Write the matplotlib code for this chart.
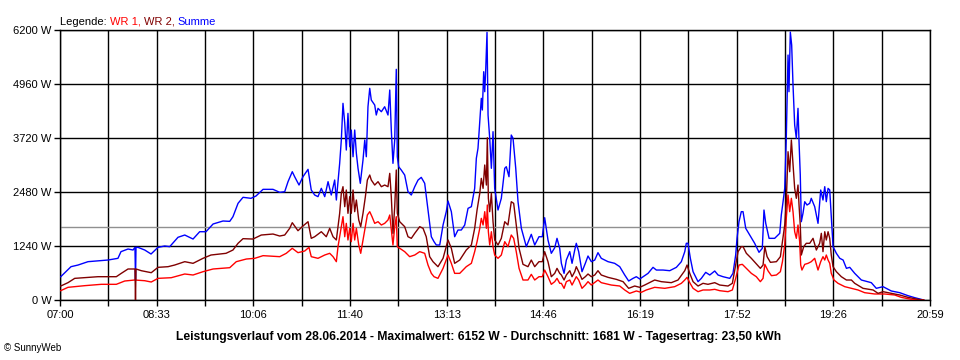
import matplotlib
matplotlib.use("Agg")
import matplotlib.pyplot as plt
from matplotlib.offsetbox import TextArea, HPacker, AnchoredOffsetbox

plt.rcParams['font.family'] = ['Liberation Sans', 'DejaVu Sans']

wr1_t = [0.7, 7.7, 23.8, 39.8, 54.3, 62.4, 72.0, 81.7, 88.0, 94.5, 107.3, 120.3,
         128.3, 137.9, 147.6, 163.7, 170.0, 179.7, 187.8, 195.8, 211.9, 218.2, 224.0,
         229.5, 236.0, 240.1, 242.3, 248.8, 255.3, 260.1, 263.3, 266.5, 268.1, 269.7,
         271.3, 272.9, 274.6, 276.1, 277.7, 279.4, 280.9, 282.6, 284.2, 285.8, 288.1,
         290.0, 292.2, 294.5, 296.4, 298.7, 300.9, 303.5, 306.7, 309.9, 313.1, 316.3,
         318.0, 319.5, 321.1, 322.8, 324.3, 325.3, 327.6, 332.4, 337.2, 342.1, 346.9,
         351.7, 354.9, 358.1, 360.7, 364.5, 369.4, 374.2, 377.4, 380.6, 385.5, 391.8,
         396.7, 399.9, 402.2, 404.8, 406.3, 408.0, 409.6, 411.2, 412.1, 413.1, 414.4,
         416.0, 417.6, 419.2, 422.4, 425.6, 428.9, 432.0, 435.2, 437.5, 440.0, 442.7,
         446.5, 451.3, 454.5, 457.8, 461.9, 465.1, 467.4, 470.6, 473.8, 477.1, 479.3,
         481.9, 483.5, 486.1, 488.3, 491.6, 493.8, 497.9, 500.2, 503.4, 506.6, 509.2,
         512.4, 518.8, 522.0, 531.6, 539.8, 544.6, 549.4, 555.8, 560.6, 565.4, 573.5,
         583.2, 592.8, 599.2, 602.5, 604.7, 607.3, 610.5, 615.3, 620.1, 626.6, 631.4,
         636.2, 644.2, 648.4, 651.6, 654.8, 658.0, 661.9, 666.7, 671.5, 675.4, 678.0,
         679.7, 682.9, 686.1, 690.9, 694.7, 696.7, 698.9, 700.4, 702.1, 703.7, 705.3,
         706.9, 708.5, 710.1, 711.7, 713.3, 714.3, 715.5, 718.2, 721.4, 724.5, 727.8,
         731.0, 733.6, 735.8, 737.5, 739.0, 740.7, 742.3, 743.8, 746.4, 750.3, 756.8,
         763.2, 769.6, 776.0, 785.7, 795.3, 804.9, 811.3, 820.9, 832.9]
wr1_w = [214, 291, 329, 360, 360, 436, 459, 443, 413, 497, 512, 597,
         574, 650, 712, 742, 880, 941, 957, 1018, 995, 1072, 1187,
         1087, 1125, 1209, 995, 957, 1033, 1072, 995, 880, 1225, 1453,
         1684, 1913, 1453, 1760, 1378, 1646, 1339, 1760, 1378, 1646, 1263,
         1072, 1378, 1684, 1952, 2028, 1913, 1760, 1798, 1722, 1760, 1837,
         1952, 1607, 1263, 1684, 1913, 1225, 1187, 1110, 995, 1033, 1110,
         1072, 803, 612, 535, 497, 727, 1033, 842, 612, 612, 765,
         842, 1110, 1339, 1646, 1875, 1722, 2028, 1646, 2181, 1568, 1263,
         1568, 1225, 1033, 957, 1033, 1339, 1225, 1492, 1416, 1110, 727,
         459, 459, 589, 459, 535, 535, 688, 535, 360, 421, 497,
         383, 383, 268, 421, 459, 344, 535, 459, 268, 344, 421,
         344, 459, 398, 344, 321, 230, 153, 207, 176, 230, 291,
         268, 306, 383, 459, 520, 398, 268, 191, 230, 230, 245,
         214, 191, 230, 497, 803, 819, 727, 612, 535, 421, 497,
         819, 666, 558, 574, 650, 880, 1263, 1875, 2411, 2028, 2335,
         2028, 1568, 1416, 1722, 1339, 803, 688, 819, 842, 880, 957,
         688, 880, 995, 918, 1033, 918, 842, 612, 459, 383, 306,
         268, 230, 168, 138, 138, 115, 61, 15, 0]

wr2_t = [0.7, 7.7, 14.2, 27.0, 36.6, 54.3, 59.1, 65.6, 72.3, 72.8, 73.3, 78.4,
         88.0, 94.5, 104.2, 110.6, 120.3, 128.3, 137.9, 145.6, 160.1, 166.8, 171.7,
         176.5, 186.1, 194.1, 205.4, 211.9, 216.7, 221.5, 224.0, 229.5, 234.3, 239.2,
         242.3, 245.6, 252.0, 256.8, 260.1, 263.3, 266.5, 269.7, 271.3, 272.9, 274.6,
         276.1, 277.7, 279.4, 280.9, 282.6, 284.2, 285.8, 288.1, 290.0, 292.2, 294.5,
         296.4, 298.7, 300.2, 303.5, 306.7, 309.9, 313.1, 316.3, 318.0, 319.5, 321.1,
         322.8, 324.3, 325.3, 327.6, 332.4, 335.6, 338.8, 342.1, 346.9, 350.1, 353.2,
         356.5, 359.7, 364.5, 369.4, 374.2, 377.4, 380.6, 385.5, 391.8, 396.7, 399.9,
         402.2, 404.8, 406.3, 408.0, 409.6, 411.2, 412.1, 413.1, 414.4, 416.0, 417.6,
         419.2, 422.4, 425.6, 428.9, 432.0, 435.2, 437.5, 440.0, 442.7, 446.5, 451.3,
         454.5, 457.8, 461.9, 465.1, 467.4, 470.6, 473.8, 477.1, 479.3, 481.9, 483.5,
         486.1, 488.3, 491.6, 493.8, 496.4, 497.9, 500.2, 503.4, 506.6, 509.2, 512.4,
         515.7, 518.8, 522.0, 528.5, 536.5, 543.0, 548.4, 554.2, 559.1, 563.9, 573.5,
         579.9, 589.5, 596.0, 602.5, 604.7, 607.3, 610.5, 615.3, 620.1, 624.9, 631.4,
         636.2, 644.2, 648.4, 651.6, 653.9, 657.0, 658.7, 661.9, 666.7, 671.0, 675.4,
         678.0, 679.7, 681.9, 685.1, 690.9, 694.7, 696.7, 698.9, 700.4, 702.1, 703.7,
         705.3, 706.9, 708.5, 710.1, 711.7, 712.7, 713.9, 714.9, 717.2, 719.7, 723.0,
         726.2, 729.4, 732.6, 734.2, 735.8, 737.5, 739.0, 740.7, 742.3, 743.8, 745.5,
         748.7, 753.5, 758.4, 763.2, 766.4, 774.4, 784.1, 788.9, 793.7, 801.7, 809.8,
         817.8, 827.5, 832.9]
wr2_w = [321, 398, 497, 520, 535, 535, 612, 712, 712, 0, 712, 673,
         627, 750, 765, 803, 880, 842, 957, 1033, 1072, 1148, 1302,
         1408, 1400, 1492, 1515, 1469, 1492, 1646, 1775, 1591, 1699, 1798,
         1416, 1453, 1568, 1453, 1646, 1453, 1378, 1990, 2449, 2602, 2143,
         2526, 1990, 2373, 1990, 2526, 2028, 2296, 1837, 1684, 1990, 2373,
         2755, 2870, 2755, 2640, 2717, 2602, 2640, 2602, 2908, 2373, 1531,
         2143, 2985, 1990, 1798, 1684, 1453, 1416, 1531, 1684, 1646, 1453,
         995, 880, 765, 957, 1378, 1187, 842, 918, 1148, 1263, 1646,
         2066, 2449, 2793, 2564, 3100, 2640, 3726, 2335, 2028, 2449, 1798,
         1378, 1263, 1416, 1798, 1722, 2257, 2220, 1722, 1187, 819, 765,
         918, 765, 880, 880, 1110, 880, 535, 612, 727, 612, 574,
         459, 574, 673, 535, 650, 765, 650, 474, 535, 597, 535,
         574, 673, 574, 520, 474, 421, 268, 321, 291, 344, 459,
         421, 398, 459, 673, 803, 612, 421, 321, 383, 360, 398,
         344, 321, 383, 803, 1110, 1225, 1225, 1072, 957, 842, 727,
         803, 1225, 995, 865, 880, 995, 1339, 1722, 2257, 3405, 2946,
         3674, 3100, 2564, 2335, 2640, 2181, 1722, 1033, 1225, 1302, 1302,
         1416, 1148, 1302, 1531, 1110, 1568, 1378, 1568, 1416, 1033, 765,
         650, 535, 459, 459, 383, 268, 230, 153, 191, 153, 115,
         61, 15, 0]

summe_t = [0.7, 10.6, 17.4, 27.0, 46.3, 55.9, 58.8, 65.6, 70.4, 72.3, 72.8, 73.3,
           75.2, 81.7, 87.8, 94.5, 101.0, 105.8, 113.8, 120.3, 128.3, 134.7, 140.8,
           147.6, 157.2, 163.7, 166.8, 171.7, 176.5, 184.2, 189.0, 195.8, 205.4, 211.9,
           216.7, 219.9, 224.0, 226.3, 230.5, 234.3, 239.2, 242.3, 245.6, 248.8, 252.0,
           255.3, 258.5, 261.6, 264.9, 266.5, 269.7, 271.3, 272.9, 274.6, 276.1, 277.7,
           279.4, 280.9, 282.6, 284.2, 285.8, 287.4, 289.6, 292.2, 293.9, 295.4, 297.0,
           298.7, 300.2, 303.5, 305.0, 306.7, 309.9, 313.1, 316.3, 318.0, 319.5, 321.1,
           322.8, 324.3, 325.3, 326.6, 329.1, 332.4, 335.6, 338.8, 342.1, 345.3, 348.4,
           351.7, 354.9, 358.1, 360.7, 362.9, 366.2, 369.4, 372.5, 374.2, 377.4, 380.6,
           383.8, 387.0, 390.3, 393.5, 396.7, 399.9, 401.5, 403.1, 404.8, 406.3, 407.3,
           408.6, 409.6, 410.6, 411.8, 412.8, 414.4, 416.0, 417.6, 419.2, 422.4, 425.6,
           428.9, 430.4, 433.0, 435.2, 436.9, 439.5, 441.7, 444.9, 449.7, 454.5, 457.8,
           461.9, 465.1, 467.4, 470.6, 473.8, 477.1, 479.3, 481.9, 483.5, 486.1, 488.3,
           491.6, 493.8, 496.4, 497.9, 500.2, 503.4, 506.6, 509.2, 512.4, 515.7, 518.8,
           522.0, 528.5, 534.9, 539.8, 544.6, 548.4, 552.6, 555.8, 559.1, 562.3, 567.1,
           571.9, 575.1, 581.5, 588.0, 594.4, 599.2, 602.5, 604.0, 605.6, 607.9, 610.5,
           615.3, 618.5, 622.7, 626.6, 631.4, 634.6, 639.4, 645.9, 649.0, 651.6, 652.9,
           654.8, 657.0, 658.7, 661.3, 665.1, 669.9, 674.1, 677.3, 678.9, 680.6, 683.8,
           689.2, 694.1, 695.6, 697.3, 698.9, 700.4, 702.1, 703.0, 704.3, 705.6, 706.9,
           708.5, 710.1, 711.7, 712.7, 713.9, 714.9, 716.5, 718.2, 720.4, 723.0, 724.5,
           727.8, 731.0, 733.6, 735.8, 737.5, 739.0, 740.7, 742.3, 743.8, 745.5, 748.7,
           752.0, 755.2, 758.4, 761.6, 766.4, 772.8, 782.4, 787.2, 793.7, 801.7, 809.8,
           817.8, 824.3, 830.6, 832.9]
summe_w = [535, 765, 803, 880, 918, 957, 1110, 1171, 1148, 1209, 459, 1209,
           1209, 1148, 1056, 1209, 1240, 1225, 1440, 1492, 1400, 1568, 1568,
           1745, 1814, 1806, 1913, 2220, 2358, 2335, 2388, 2541, 2541, 2472,
           2487, 2717, 2946, 2831, 2640, 2831, 3000, 2526, 2411, 2373, 2564,
           2373, 2717, 2411, 2755, 2296, 3138, 3674, 4516, 4057, 3444, 4286,
           3520, 3903, 3290, 3903, 3368, 3024, 2679, 3214, 3674, 3290, 4438,
           4860, 4592, 4477, 4248, 4401, 4324, 4438, 4248, 4822, 3903, 3138,
           3674, 5297, 3290, 3061, 2985, 2870, 2487, 2411, 2602, 2755, 2816,
           2679, 2066, 1453, 1339, 1263, 1263, 1722, 2028, 2273, 2028, 1453,
           1607, 1607, 1722, 2105, 2143, 2564, 3253, 3483, 4095, 4631, 4363,
           5242, 4783, 5320, 6146, 4248, 3712, 3024, 3865, 2564, 2066, 2335,
           3024, 3061, 2831, 3788, 3712, 3024, 2257, 1646, 1225, 1508, 1263,
           1453, 1453, 1890, 1378, 1072, 1201, 1416, 1187, 842, 612, 918,
           1110, 842, 1148, 1302, 1110, 650, 842, 1010, 880, 918, 1087,
           957, 880, 842, 765, 574, 436, 497, 535, 482, 535, 612,
           750, 688, 688, 673, 750, 880, 1110, 1302, 1302, 957, 650,
           421, 497, 635, 574, 666, 574, 535, 497, 612, 1033, 1416,
           1798, 2028, 2028, 1646, 1492, 1302, 1095, 1187, 2066, 1760, 1416,
           1416, 1531, 1952, 2257, 2564, 3712, 5625, 4783, 6152, 5855, 4936,
           4018, 3712, 4401, 3635, 2870, 1798, 1990, 2257, 2181, 2220, 2335,
           2143, 1760, 2526, 2296, 2602, 2258, 2564, 2526, 1913, 1225, 1072,
           957, 918, 727, 750, 612, 459, 398, 268, 306, 207, 168,
           99, 53, 15, 0]

durchschnitt = 1681
y_ticks = [0, 1240, 2480, 3720, 4960, 6200]
x_labels = ['07:00', '08:33', '10:06', '11:40', '13:13', '14:46', '16:19', '17:52', '19:26', '20:59']
t_end = 839  # 07:00 -> 20:59

fig = plt.figure(figsize=(9.6, 3.6), dpi=100)
ax = fig.add_axes([60 / 960, 1 - 300 / 360, 870 / 960, 270 / 360])

ax.plot(summe_t, summe_w, color='#0000ff', lw=1.0, zorder=3)
ax.plot(wr1_t, wr1_w, color='#ff0000', lw=1.0, zorder=4)
ax.plot(wr2_t, wr2_w, color='#800000', lw=1.0, zorder=5)
ax.axhline(durchschnitt, color='#909090', lw=1.0, zorder=2)

n_grid = 18
x_ticks = [t_end * i / n_grid for i in range(n_grid + 1)]
ax.set_xlim(0, t_end)
ax.set_ylim(0, 6200)
ax.set_xticks(x_ticks)
ax.set_xticklabels([x_labels[i // 2] if i % 2 == 0 else '' for i in range(n_grid + 1)])
ax.set_yticks(y_ticks)
ax.set_yticklabels([f'{v} W' for v in y_ticks])
ax.grid(True, color='black', lw=1.0, zorder=1)
ax.set_axisbelow(True)
for s in ax.spines.values():
    s.set_color('black')
    s.set_linewidth(1.0)
ax.tick_params(axis='both', length=4, width=1, labelsize=8, pad=2, colors='black')
ax.tick_params(axis='x', pad=3)

# legend line above the plot
parts = [TextArea('Legende: ', textprops=dict(color='black', size=8)),
         TextArea('WR 1, ', textprops=dict(color='#ff0000', size=8)),
         TextArea('WR 2, ', textprops=dict(color='#800000', size=8)),
         TextArea('Summe', textprops=dict(color='#0000ff', size=8))]
box = HPacker(children=parts, align='baseline', pad=0, sep=0)
anchored = AnchoredOffsetbox(loc='lower left', child=box, pad=0, frameon=False,
                             bbox_to_anchor=(0.0, 1.012), bbox_transform=ax.transAxes,
                             borderpad=0)
ax.add_artist(anchored)

fig.text(479 / 960, 1 - 337 / 360,
         'Leistungsverlauf vom 28.06.2014 - Maximalwert: 6152 W - Durchschnitt: 1681 W - Tagesertrag: 23,50 kWh',
         ha='center', va='center', fontsize=8.7, fontweight='bold')
fig.text(4 / 960, 1 - 348 / 360, '© SunnyWeb', ha='left', va='center', fontsize=7)

fig.savefig('out.png', dpi=100, facecolor='white')
